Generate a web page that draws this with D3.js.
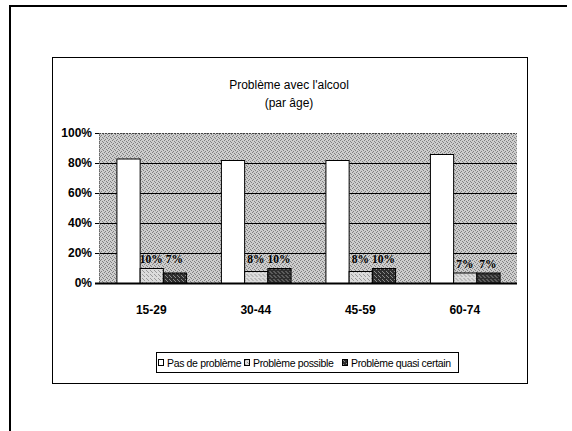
<!DOCTYPE html>
<html><head><meta charset="utf-8">
<script src="https://cdn.jsdelivr.net/npm/d3@7"></script>
<style>
html,body{margin:0;padding:0;background:#fff;}
svg{display:block;}
</style></head>
<body>
<script>
const categories = ["15-29", "30-44", "45-59", "60-74"];
const seriesNames = ["Pas de problème", "Problème possible", "Problème  quasi certain"];
const pasDeProbleme = [83, 82, 82, 86];
const problemePossible = [10, 8, 8, 7];
const problemeQuasiCertain = [7, 10, 10, 7];
const yTicks = [0, 20, 40, 60, 80, 100];
const titleLines = ["Problème avec l'alcool", "(par âge)"];

const series = [pasDeProbleme, problemePossible, problemeQuasiCertain];

const W = 572, H = 431;
const svg = d3.select("body").append("svg").attr("width", W).attr("height", H);
const defs = svg.append("defs");

function stipple(id, base, dot, pts) {
  const p = defs.append("pattern").attr("id", id).attr("width", 4).attr("height", 4)
    .attr("patternUnits", "userSpaceOnUse");
  p.append("rect").attr("width", 4).attr("height", 4).attr("fill", base);
  pts.forEach(([px, py]) => p.append("rect").attr("x", px).attr("y", py).attr("width", 1).attr("height", 1).attr("fill", dot));
}
stipple("bg", "#cdcdcd", "#808080", [[0,0],[2,1],[1,3],[3,2]]);
stipple("s2", "#dcdcdc", "#9a9a9a", [[1,0],[3,2],[0,3]]);
stipple("s3", "#2e2e2e", "#8a8a8a", [[0,1],[2,3],[3,0]]);
const fills = ["#ffffff", "url(#s2)", "url(#s3)"];

// outer frame
svg.append("path").attr("d", `M10,${H} L10,6 L567,6`).attr("fill", "none")
  .attr("stroke", "#000").attr("stroke-width", 2);

// chart box
svg.append("rect").attr("x", 52.5).attr("y", 57.5).attr("width", 475).attr("height", 326)
  .attr("fill", "#fff").attr("stroke", "#000").attr("stroke-width", 1);

// title
svg.selectAll("text.title").data(titleLines).join("text").attr("class", "title")
  .attr("x", 289).attr("y", (d, i) => 89 + i * 18)
  .attr("text-anchor", "middle")
  .style("font-family", "Liberation Sans, Arial, sans-serif").style("font-size", "12px")
  .text(d => d);

// plot area
const pLeft = 99, pRight = 517, pTop = 133, pBottom = 283;
const y = d3.scaleLinear().domain([0, 100]).range([pBottom, pTop]);
const x0 = d3.scaleBand().domain(categories).range([pLeft, pRight]).paddingInner(0).paddingOuter(0);
const bw = x0.bandwidth();
const x1 = d3.scaleBand().domain([0, 1, 2]).range([bw / 6, bw * 5 / 6]).padding(0);

svg.append("rect").attr("x", pLeft).attr("y", pTop).attr("width", pRight - pLeft).attr("height", pBottom - pTop)
  .attr("fill", "url(#bg)");

// gridlines
svg.selectAll("line.grid").data(yTicks.filter(t => t > 0 && t < 100)).join("line").attr("class", "grid")
  .attr("x1", pLeft).attr("x2", pRight).attr("y1", d => Math.round(y(d)) + 0.5).attr("y2", d => Math.round(y(d)) + 0.5)
  .attr("stroke", "#000").attr("stroke-width", 1);
svg.append("line").attr("x1", pLeft).attr("x2", pRight).attr("y1", y(100) + 0.5).attr("y2", y(100) + 0.5)
  .attr("stroke", "#444").attr("stroke-dasharray", "2,1");

// y axis
const yAxis = d3.axisLeft(y).tickValues(yTicks).tickFormat(d => d + "%").tickSize(4).tickPadding(3);
const ga = svg.append("g").attr("transform", `translate(${pLeft},0)`).call(yAxis);
ga.select(".domain").attr("stroke", "#666").attr("stroke-dasharray", "1,1");
ga.selectAll(".tick line").attr("stroke", "#000");
ga.selectAll("text").style("font-family", "Liberation Sans, Arial, sans-serif")
  .style("font-size", "12px").style("font-weight", "bold").attr("fill", "#000");

// bars
const groups = svg.selectAll("g.grp").data(categories).join("g").attr("class", "grp")
  .attr("transform", d => `translate(${x0(d)},0)`);
groups.each(function (c, ci) {
  const g = d3.select(this);
  series.forEach((s, si) => {
    g.append("rect").attr("x", x1(si) + 0.5).attr("y", y(s[ci]) + 0.5)
      .attr("width", x1.bandwidth()).attr("height", pBottom - y(s[ci]))
      .attr("fill", fills[si]).attr("stroke", "#000").attr("stroke-width", 1);
  });
  const ly = y(Math.max(series[1][ci], series[2][ci])) - 5;
  [1, 2].forEach(si => {
    g.append("text").attr("x", x1(si) + x1.bandwidth() / 2).attr("y", ly)
      .attr("text-anchor", "middle")
      .style("font-family", "Liberation Serif, Times New Roman, serif").style("font-size", "11.5px")
      .style("font-weight", "bold").text(series[si][ci] + "%");
  });
});

// baseline
svg.append("line").attr("x1", pLeft - 4).attr("x2", pRight).attr("y1", pBottom + 0.5).attr("y2", pBottom + 0.5)
  .attr("stroke", "#000").attr("stroke-width", 2);

// x axis labels
const xAxis = d3.axisBottom(x0).tickSize(0).tickPadding(22);
const gx = svg.append("g").attr("transform", `translate(0,${pBottom})`).call(xAxis);
gx.select(".domain").remove();
gx.selectAll("text").style("font-family", "Liberation Sans, Arial, sans-serif")
  .style("font-size", "12px").style("font-weight", "bold").attr("fill", "#000");

// legend
const lg = svg.append("g");
lg.append("rect").attr("x", 156.5).attr("y", 352.5).attr("width", 302).attr("height", 20)
  .attr("fill", "#fff").attr("stroke", "#000");
const legX = [158, 244, 342];
seriesNames.forEach((n, i) => {
  lg.append("rect").attr("x", legX[i] + 0.5).attr("y", 359.5).attr("width", 5).attr("height", 6)
    .attr("fill", fills[i]).attr("stroke", "#000");
  lg.append("text").attr("x", legX[i] + 9).attr("y", 366.5)
    .style("font-family", "Liberation Sans, Arial, sans-serif").style("font-size", "10.5px")
    .style("letter-spacing", "-0.35px")
    .text(n);
});
</script>
</body></html>
